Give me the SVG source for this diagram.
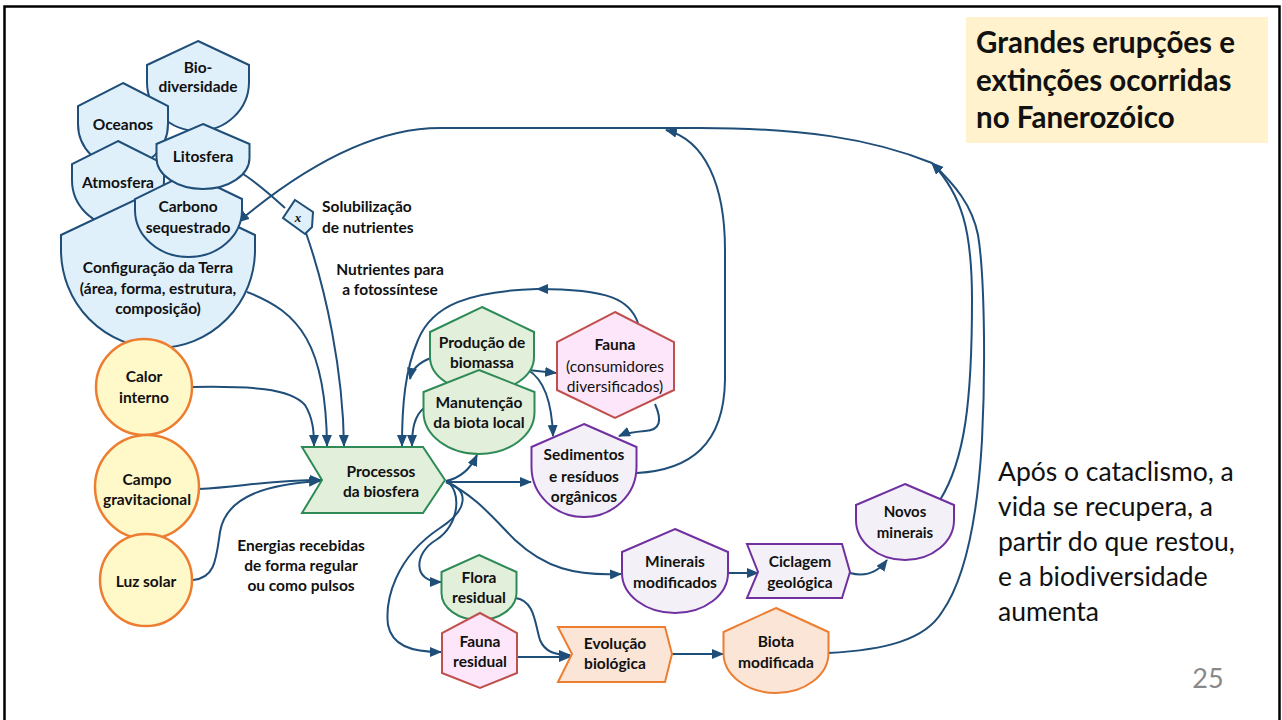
<svg xmlns="http://www.w3.org/2000/svg" width="1282" height="720" viewBox="0 0 1282 720">
<defs>
<style>
text{font-family:Lato,"Liberation Sans",sans-serif;fill:#111}
.b{font-weight:bold;font-size:15.5px;text-anchor:middle}
.r{font-weight:normal;font-size:15.5px;text-anchor:middle}
.lbl{font-weight:bold;font-size:15.5px}
.blue{fill:#E0F0FB;stroke:#1F4E79;stroke-width:2}
.yel{fill:#FFF8C8;stroke:#ED7D31;stroke-width:2.5}
.grn{fill:#E2EFDA;stroke:#2E8B57;stroke-width:2}
.pink{fill:#FDE6FA;stroke:#C0504D;stroke-width:2}
.pur{fill:#F3F1F7;stroke:#7030A0;stroke-width:2}
.org{fill:#FBE5D6;stroke:#ED7D31;stroke-width:2}
.c{fill:none;stroke:#1F4E79;stroke-width:2}
.a{marker-end:url(#ah)}
.ttl{font-weight:bold;font-size:29.5px}
.bd{font-size:26.5px}
</style>
<marker id="ah" viewBox="0 0 12 10" refX="11" refY="5" markerWidth="12" markerHeight="10" markerUnits="userSpaceOnUse" orient="auto">
<path d="M0,0 L12,5 L0,10 Z" fill="#1F4E79"/>
</marker>
</defs>
<rect x="0" y="0" width="1282" height="720" fill="#fff"/>
<path d="M4.5,720 L4.5,6.5 L1279.5,6.5 L1279.5,720" fill="none" stroke="#000" stroke-width="2.5"/>

<g id="connectors">
<path class="c" d="M240,172 C258,183 272,196 285,208"/>
<path class="c a" d="M306,233 C326,290 343,370 344,446"/>
<path class="c a" d="M247,292 C300,312 326,345 327,446"/>
<path class="c a" d="M192,387 C250,386 290,388 305,405 C313,418 314,432 314,446"/>
<path class="c a" d="M199,489 C240,487 270,480 321,480"/>
<path class="c a" d="M193,580 C215,578 216,560 220,532 C226,495 270,484 320,481"/>
<path class="c a" d="M638,323 C630,300 610,289 537,289"/>
<path class="c a" d="M537,289 C470,291 432,305 418,340 C405,370 402,405 402,446"/>
<path class="c a" d="M431,358 C420,362 412,368 410,379"/>
<path class="c a" d="M424,408 C414,416 412,430 412,446"/>
<path class="c a" d="M528,370 L556,373"/>
<path class="c a" d="M528,370 C545,380 552,405 553,436"/>
<path class="c a" d="M655,404 C662,420 661,430 645,431 C633,432 626,433 619,436"/>
<path class="c a" d="M446,481 C460,478 470,470 477,455"/>
<path class="c a" d="M446,482 L531,482"/>
<path class="c a" d="M446,482 C475,495 495,520 515,540 C545,568 575,576 621,574"/>
<path class="c a" d="M446,481 C462,490 460,525 436,540 C414,553 412,582 441,582"/>
<path class="c a" d="M446,482 C470,490 468,510 440,528 C395,558 385,600 388,625 C392,645 410,652 441,652"/>
<path class="c a" d="M515,598 C535,600 535,625 540,640 C545,652 555,655 570,655"/>
<path class="c a" d="M518,657 L570,657"/>
<path class="c a" d="M672,654 L723,654"/>
<path class="c a" d="M728,573 L758,573"/>
<path class="c a" d="M850,573 C865,577 878,572 887,560"/>
<path class="c a" d="M637,473 C690,470 724,445 725,380 L725,250 C725,185 705,140 666,130"/>
<path class="c a" d="M940,500 C965,460 972,400 972,300 C972,230 962,195 932,163"/>
<path class="c a" d="M828,653 C885,650 925,640 942,612 C968,575 978,510 982,440 C986,360 984,270 978,235 C972,205 955,185 932,163"/>
<path class="c a" d="M932,163 C870,138 800,128 700,128 L440,128 C370,128 300,170 238,222"/>
</g>

<g id="biodiversidade">
<path class="blue" d="M198,41 L249,65 L249,82 A51,49 0 0 1 147,82 L147,65 Z"/>
<text class="b" x="198" y="73">Bio-</text>
<text class="b" x="198" y="92">diversidade</text>
</g>
<g id="oceanos">
<path class="blue" d="M123,83 L168,106 L168,124 A45,44 0 0 1 78,124 L78,106 Z"/>
<text class="b" x="123" y="130">Oceanos</text>
</g>
<g id="atmosfera">
<path class="blue" d="M118,141 L164,164 L164,180 A46,46 0 0 1 72,180 L72,164 Z"/>
<text class="b" x="118" y="188">Atmosfera</text>
</g>
<g id="configuracao">
<path class="blue" d="M158,189 L255,235 L255,250 A97,98 0 0 1 61,250 L61,235 Z"/>
<text class="b" x="158" y="273">Configuração da Terra</text>
<text class="b" x="158" y="294">(área, forma, estrutura,</text>
<text class="b" x="158" y="314">composição)</text>
</g>
<g id="carbono">
<path class="blue" d="M188,173 L242,199 L242,210 A53.5,47 0 0 1 135,210 L135,199 Z"/>
<text class="b" x="188" y="212">Carbono</text>
<text class="b" x="188" y="233">sequestrado</text>
</g>
<g id="litosfera">
<path class="blue" d="M203,124 L249.5,144 L249.5,158 A46.5,31 0 0 1 156.5,158 L156.5,144 Z"/>
<text class="b" x="203" y="162">Litosfera</text>
</g>
<g id="solubilizacao-x">
<path class="blue" d="M295,200 L313,212 L312,227 L305,234 L283,218 Z"/>
<text x="298" y="222" style="font-family:'Liberation Serif',serif;font-style:italic;font-weight:bold;font-size:13px;text-anchor:middle">x</text>
</g>

<g id="calor">
<circle class="yel" cx="144" cy="387" r="48"/>
<text class="b" x="144" y="382">Calor</text>
<text class="b" x="144" y="403">interno</text>
</g>
<g id="campo">
<circle class="yel" cx="147" cy="487" r="52"/>
<text class="b" x="147" y="485">Campo</text>
<text class="b" x="147" y="505">gravitacional</text>
</g>
<g id="luz">
<circle class="yel" cx="146" cy="580" r="46"/>
<text class="b" x="146" y="587">Luz solar</text>
</g>

<g id="processos">
<path class="grn" d="M302,447 L423,447 L445,480 L423,513 L302,513 L322,480 Z"/>
<text class="b" x="381" y="477">Processos</text>
<text class="b" x="381" y="497">da biosfera</text>
</g>
<g id="producao">
<path class="grn" d="M482,307 L534,332 L534,357 A52,35 0 0 1 430,357 L430,332 Z"/>
<text class="b" x="482" y="348">Produção de</text>
<text class="b" x="482" y="368">biomassa</text>
</g>
<g id="manutencao">
<path class="grn" d="M479,370 L534.5,392 L534.5,412 A55.5,42 0 0 1 423.5,412 L423.5,392 Z"/>
<text class="b" x="479" y="408">Manutenção</text>
<text class="b" x="479" y="428">da biota local</text>
</g>
<g id="fauna">
<path class="pink" d="M615,312 L674,342 L674,390 L615,418 L557,390 L557,342 Z"/>
<text class="b" x="615" y="350">Fauna</text>
<text class="r" x="615" y="372">(consumidores</text>
<text class="r" x="615" y="392">diversificados)</text>
</g>
<g id="sedimentos">
<path class="pur" d="M584,424 L636.5,447 L636.5,467 A52.5,50 0 0 1 531.5,467 L531.5,447 Z"/>
<text class="b" x="584" y="460">Sedimentos</text>
<text class="b" x="584" y="482">e resíduos</text>
<text class="b" x="584" y="502">orgânicos</text>
</g>
<g id="minerais">
<path class="pur" d="M675,529 L728,552 L728,573 A53,40 0 0 1 622,573 L622,552 Z"/>
<text class="b" x="675" y="567">Minerais</text>
<text class="b" x="675" y="588">modificados</text>
</g>
<g id="ciclagem">
<path class="pur" d="M747,544 L842,544 L850,572 L842,598 L747,598 L758,572 Z"/>
<text class="b" x="800" y="567">Ciclagem</text>
<text class="b" x="800" y="588">geológica</text>
</g>
<g id="novos">
<path class="pur" d="M905,484 L954,505 L954,520 A49,40 0 0 1 856,520 L856,505 Z"/>
<text class="b" x="905" y="517" style="font-size:15px">Novos</text>
<text class="b" x="905" y="538" style="font-size:15px">minerais</text>
</g>
<g id="flora">
<path class="grn" d="M479,555 L516.5,572 L516.5,593 A37.5,27 0 0 1 441.5,593 L441.5,572 Z"/>
<text class="b" x="479" y="583">Flora</text>
<text class="b" x="479" y="603">residual</text>
</g>
<g id="fauna-residual">
<path class="pink" d="M480,613 L517,633 L517,673 L480,688 L442,673 L442,633 Z"/>
<text class="b" x="480" y="647">Fauna</text>
<text class="b" x="480" y="667">residual</text>
</g>
<g id="evolucao">
<path class="org" d="M558,627 L665,627 L672,654 L665,682 L558,682 L572,654 Z"/>
<text class="b" x="615" y="649">Evolução</text>
<text class="b" x="615" y="669">biológica</text>
</g>
<g id="biota">
<path class="org" d="M776,608 L828.5,632 L828.5,653 A52.5,40 0 0 1 723.5,653 L723.5,632 Z"/>
<text class="b" x="776" y="647">Biota</text>
<text class="b" x="776" y="668">modificada</text>
</g>

<g id="labels">
<text class="lbl" x="322" y="212">Solubilização</text>
<text class="lbl" x="322" y="233">de nutrientes</text>
<text class="b" x="390" y="275">Nutrientes para</text>
<text class="b" x="390" y="295">a fotossíntese</text>
<text class="b" x="301" y="551">Energias recebidas</text>
<text class="b" x="301" y="571">de forma regular</text>
<text class="b" x="301" y="591">ou como pulsos</text>
</g>

<g id="title">
<rect x="966" y="17" width="302" height="126" fill="#FFF2CC"/>
<text class="ttl" x="976" y="53">Grandes erupções e</text>
<text class="ttl" x="976" y="91">extinções ocorridas</text>
<text class="ttl" x="976" y="128">no Fanerozóico</text>
</g>
<g id="body">
<text class="bd" x="998" y="481">Após o cataclismo, a</text>
<text class="bd" x="998" y="516">vida se recupera, a</text>
<text class="bd" x="998" y="551">partir do que restou,</text>
<text class="bd" x="998" y="586">e a biodiversidade</text>
<text class="bd" x="998" y="621">aumenta</text>
</g>
<text x="1208" y="688" style="font-size:27px;fill:#898989;text-anchor:middle">25</text>
</svg>
